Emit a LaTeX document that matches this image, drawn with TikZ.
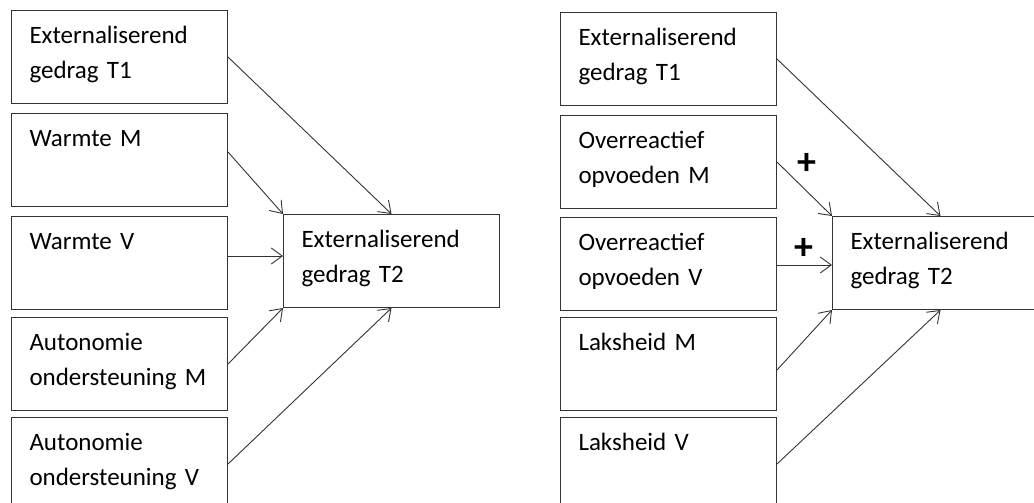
\documentclass[tikz,border=0pt]{standalone}
\usepackage{fontspec}
\setmainfont{Carlito}
\usetikzlibrary{arrows.meta}
\tikzset{
  var/.style={draw=black!80, line width=1pt, anchor=north west, align=left,
    text width=180pt, inner xsep=18pt, inner ysep=0pt,
    text height=33pt, text depth=60pt, font=\fontsize{25}{35}\selectfont},
  effect/.style={draw=black!80, line width=0.9pt, -{Straight Barb[length=11pt,width=16pt]}},
  sign/.style={font=\fontsize{38}{38}\selectfont\bfseries, inner sep=0pt}
}
\begin{document}
\begin{tikzpicture}[x=1pt,y=1pt]
  \useasboundingbox (0,0) rectangle (1034,-503);
  % warmte en autonomie
  \node[var] (a1) at (11,-10) {Externaliserend\\gedrag T1};
  \node[var] (a2) at (11,-113) {Warmte M};
  \node[var] (a3) at (11,-216) {Warmte V};
  \node[var] (a4) at (11,-317) {Autonomie\\ondersteuning M};
  \node[var] (a5) at (11,-417) {Autonomie\\ondersteuning V};
  \node[var] (t) at (283,-214) {Externaliserend\\gedrag T2};
  \draw[effect] (a1.east) -- (t.north);
  \draw[effect] ([yshift=8pt]a2.east) -- (t.north west);
  \draw[effect] ([yshift=7pt]a3.east) -- ([yshift=7pt]a3.east -| t.west);
  \draw[effect] (a4.east) -- (t.south west);
  \draw[effect] (a5.east) -- (t.south);
  % overreactief en laksheid
  \node[var] (b1) at (560,-12) {Externaliserend\\gedrag T1};
  \node[var] (b2) at (560,-115) {Overreactief\\opvoeden M};
  \node[var] (b3) at (560,-217) {Overreactief\\opvoeden V};
  \node[var] (b4) at (560,-317) {Laksheid M};
  \node[var] (b5) at (560,-417) {Laksheid V};
  \node[var] (u) at (832,-216) {Externaliserend\\gedrag T2};
  \draw[effect] (b1.east) -- (u.north);
  \draw[effect] (b2.east) -- (u.north west);
  \draw[effect] ([yshift=-1pt]b3.east) -- ([yshift=-1pt]b3.east -| u.west);
  \draw[effect] ([yshift=-6pt]b4.east) -- (u.south west);
  \draw[effect] (b5.east) -- (u.south);
  \node[sign] (p2) at (807,-164) {+};
  \node[sign] (p3) at (804,-249) {+};
\end{tikzpicture}
\end{document}
